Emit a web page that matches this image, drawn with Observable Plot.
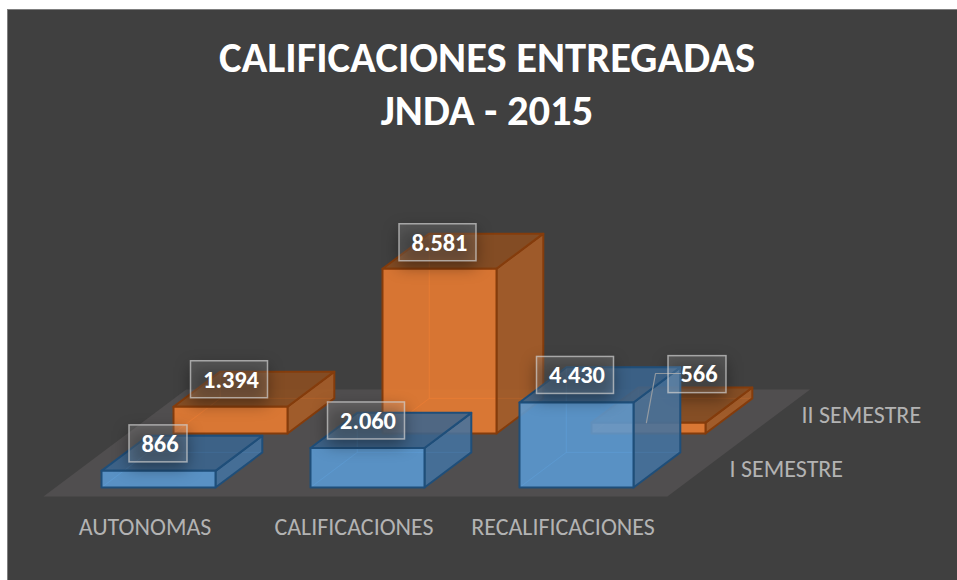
<!DOCTYPE html>
<html>
<head>
<meta charset="utf-8">
<script src="https://cdn.jsdelivr.net/npm/d3@7"></script>
<script src="https://cdn.jsdelivr.net/npm/@observablehq/plot@0.6"></script>
<style>
html,body{margin:0;padding:0;background:#fff;overflow:hidden;width:957px;height:580px}
#chart{position:absolute;left:7px;top:9px;border-left:1px solid #7f7f7f;border-top:1px solid #7f7f7f;width:949px;height:570px;background:#404040}
#chart svg{display:block}
</style>
</head>
<body>
<div id="chart"></div>
<script>
const categories = ["AUTONOMAS", "CALIFICACIONES", "RECALIFICACIONES"];
const seriesNames = ["I SEMESTRE", "II SEMESTRE"];
const semestreI = [866, 2060, 4430];
const semestreII = [1394, 8581, 566];
const valueLabels = [["866", "2.060", "4.430"], ["1.394", "8.581", "566"]];
const titleLines = ["CALIFICACIONES ENTREGADAS", "JNDA - 2015"];

// Oblique projection of (category, depth, value) into the plane of the two scales
const W = 949, H = 570;
const pxPerCat = 209, pxPerValue = 0.0192, originX = 93, originY = 477;
const depthDx = 72 / pxPerCat, depthDy = 54 / pxPerValue;
const project = (c, s, v) => ({x: c + s * depthDx, y: v + s * depthDy});
const barW = 114 / pxPerCat, barD = 0.65;
const font = "Carlito, Calibri, Lato, sans-serif";

const palette = [
  {front:"#5b9bd5", side:"#43729f", top:"#3a648e", edge:"#1f4e79", hidden:"#6aa5dc"},
  {front:"#ed7d31", side:"#ab5d26", top:"#8c4d1f", edge:"#843c0c", hidden:"#f08a3e"}
];

function poly(pts, opts) {
  const closed = [...pts, pts[0]];
  return Plot.line(closed, {x:"x", y:"y", curve:"linear", strokeLinejoin:"round", ...opts});
}

function barMarks(c, s, v, col) {
  const x0 = c, x1 = c + barW, z0 = s, z1 = s + barD;
  const P = project;
  const faces = [];
  const hid = {fill:col.hidden, fillOpacity:0.10, stroke:col.hidden, strokeOpacity:0.4, strokeWidth:1};
  const vis = {fillOpacity:0.86, stroke:col.edge, strokeWidth:2};
  faces.push(poly([P(x0,z0,0),P(x1,z0,0),P(x1,z1,0),P(x0,z1,0)], hid));
  faces.push(poly([P(x0,z1,0),P(x1,z1,0),P(x1,z1,v),P(x0,z1,v)], hid));
  faces.push(poly([P(x0,z0,0),P(x0,z1,0),P(x0,z1,v),P(x0,z0,v)], hid));
  faces.push(poly([P(x1,z0,0),P(x1,z1,0),P(x1,z1,v),P(x1,z0,v)], {...vis, fill:col.side}));
  faces.push(poly([P(x0,z0,v),P(x1,z0,v),P(x1,z1,v),P(x0,z1,v)], {...vis, fill:col.top}));
  faces.push(poly([P(x0,z0,0),P(x1,z0,0),P(x1,z0,v),P(x0,z0,v)], {...vis, fill:col.front}));
  return faces;
}

const seriesValues = [semestreI, semestreII];
const labelShift = [[[0,0],[-1,0],[-1,0]], [[-1,0],[-1.5,1],[49,-21]]];
const boxes = [];
seriesValues.forEach((vals, s) => vals.forEach((v, i) => {
  const p = project(i + barW / 2, s, v);
  const [sx, sy] = labelShift[s][i];
  const text = valueLabels[s][i];
  const cx = p.x + sx / pxPerCat, cy = p.y - (sy - 27) / pxPerValue;
  const hw = (text.length > 3 ? 38.5 : 29) / pxPerCat, hh = 18.5 / pxPerValue;
  boxes.push({text, cx, cy, x1: cx - hw, x2: cx + hw, y1: cy - hh, y2: cy + hh});
}));

const floorPts = [project(-0.22,-0.167,0), project(2.765,-0.167,0), project(2.765,1.815,0), project(-0.22,1.815,0)];
const leader = [
  {...project(2 + barW / 2 - 0.01, 1, 566)},
  {x:(655 - 8 - originX) / pxPerCat, y:(originY - (373 - 10)) / pxPerValue},
  {x:(680 - 8 - originX) / pxPerCat, y:(originY - (373 - 10)) / pxPerValue}
];

const catLabels = categories.map((name, i) => ({name, ...project(i, 0, 0)}));
const serLabels = seriesNames.map((name, s) => ({name, ...project(3.005, s, 0)}));

const titleMark = (t, dy) => Plot.text([t], {
  frameAnchor:"top", dx:4, dy, fontFamily:font, fontWeight:700, fontSize:42.6, fill:"#fff", lineAnchor:"middle"
});

const orangeShadow = boxes.slice(3), blueShadow = boxes.slice(0,3);
const shadow = data => Plot.rect(data, {
  x1:"x1", x2:"x2", y1:"y1", y2:"y2", dy:6, fill:"#000", fillOpacity:0.4, imageFilter:"blur(8px)"
});

const chart = Plot.plot({
  width:W, height:H, margin:0,
  style:{background:"transparent", overflow:"hidden"},
  x:{domain:[-originX / pxPerCat, (W - originX) / pxPerCat], range:[0,W], axis:null},
  y:{domain:[-(H - originY) / pxPerValue, originY / pxPerValue], range:[H,0], axis:null},
  marks:[
    poly(floorPts, {fill:"#504e4f"}),
    ...semestreII.flatMap((v,i) => barMarks(i,1,v,palette[1])),
    shadow(orangeShadow),
    ...semestreI.flatMap((v,i) => barMarks(i,0,v,palette[0])),
    shadow(blueShadow),
    Plot.line(leader, {x:"x", y:"y", curve:"linear", stroke:"#a6a6a6", strokeOpacity:0.8, strokeWidth:1.2}),
    Plot.rect(boxes, {x1:"x1", x2:"x2", y1:"y1", y2:"y2", fill:"#fff", fillOpacity:0.13, stroke:"#d0d0d0", strokeOpacity:0.7, strokeWidth:1.5}),
    Plot.text(boxes, {x:"cx", y:"cy", text:"text", dx:1.5, fontFamily:font, fontWeight:700, fontSize:24.4, fill:"#fff", lineAnchor:"middle"}),
    Plot.text(catLabels, {x:"x", y:"y", text:"name", dx:43.5, dy:40, fontFamily:font, fontSize:24, fill:"#b3b3b3", lineAnchor:"middle"}),
    Plot.text(serLabels, {x:"x", y:"y", text:"name", dy:-18, textAnchor:"start", fontFamily:font, fontSize:24, fill:"#b3b3b3", lineAnchor:"middle"}),
    titleMark(titleLines[0], 48),
    titleMark(titleLines[1], 101)
  ]
});
document.getElementById("chart").appendChild(chart);
</script>
</body>
</html>
